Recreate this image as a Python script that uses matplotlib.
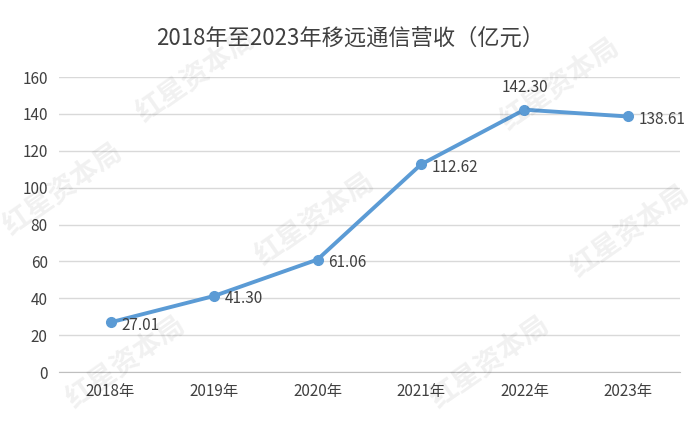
import matplotlib
matplotlib.use("Agg")
import matplotlib.pyplot as plt

plt.rcParams['font.family'] = ['Noto Sans CJK SC', 'DejaVu Sans']

years = ["2018年", "2019年", "2020年", "2021年", "2022年", "2023年"]
revenue = [27.01, 41.30, 61.06, 112.62, 142.30, 138.61]
yticks = [0, 20, 40, 60, 80, 100, 120, 140, 160]

fig = plt.figure(figsize=(7, 4.21), dpi=100)
ax = fig.add_axes([0.084, 0.116, 0.887, 0.701])
x = list(range(len(years)))
ax.plot(x, revenue, color="#5B9BD5", lw=2.8, marker="o", ms=7, clip_on=False, zorder=3)
ax.set_xlim(-0.5, len(years) - 0.5)
ax.set_ylim(0, 160)
ax.set_yticks(yticks)
ax.set_xticks(x)
ax.set_xticklabels(years)
ax.grid(axis="y", color="#D9D9D9", lw=1)
ax.set_axisbelow(True)
for s in ["top", "right", "left"]:
    ax.spines[s].set_visible(False)
ax.spines["bottom"].set_color("#BFBFBF")
ax.tick_params(length=0, labelsize=11, colors="#404040", pad=8)
for i, v in enumerate(revenue):
    if i == 4:
        ax.annotate(f"{v:.2f}", (i, v), xytext=(0, 10), textcoords="offset points",
                    ha="center", va="bottom", fontsize=11, color="#404040")
    else:
        ax.annotate(f"{v:.2f}", (i, v), xytext=(8, -2), textcoords="offset points",
                    ha="left", va="center", fontsize=11, color="#404040")
fig.text(0.5, 0.91, "2018年至2023年移远通信营收（亿元）", ha="center", va="center",
         fontsize=16, color="#404040")
for (wx, wy) in [(0.28, 0.82), (0.8, 0.8), (0.09, 0.55), (0.45, 0.48), (0.9, 0.45), (0.18, 0.14), (0.7, 0.14)]:
    fig.text(wx, wy, "红星资本局", rotation=35, fontsize=20, color="#000000", alpha=0.06,
             ha="center", va="center", fontweight="bold")
fig.savefig("out.png")
